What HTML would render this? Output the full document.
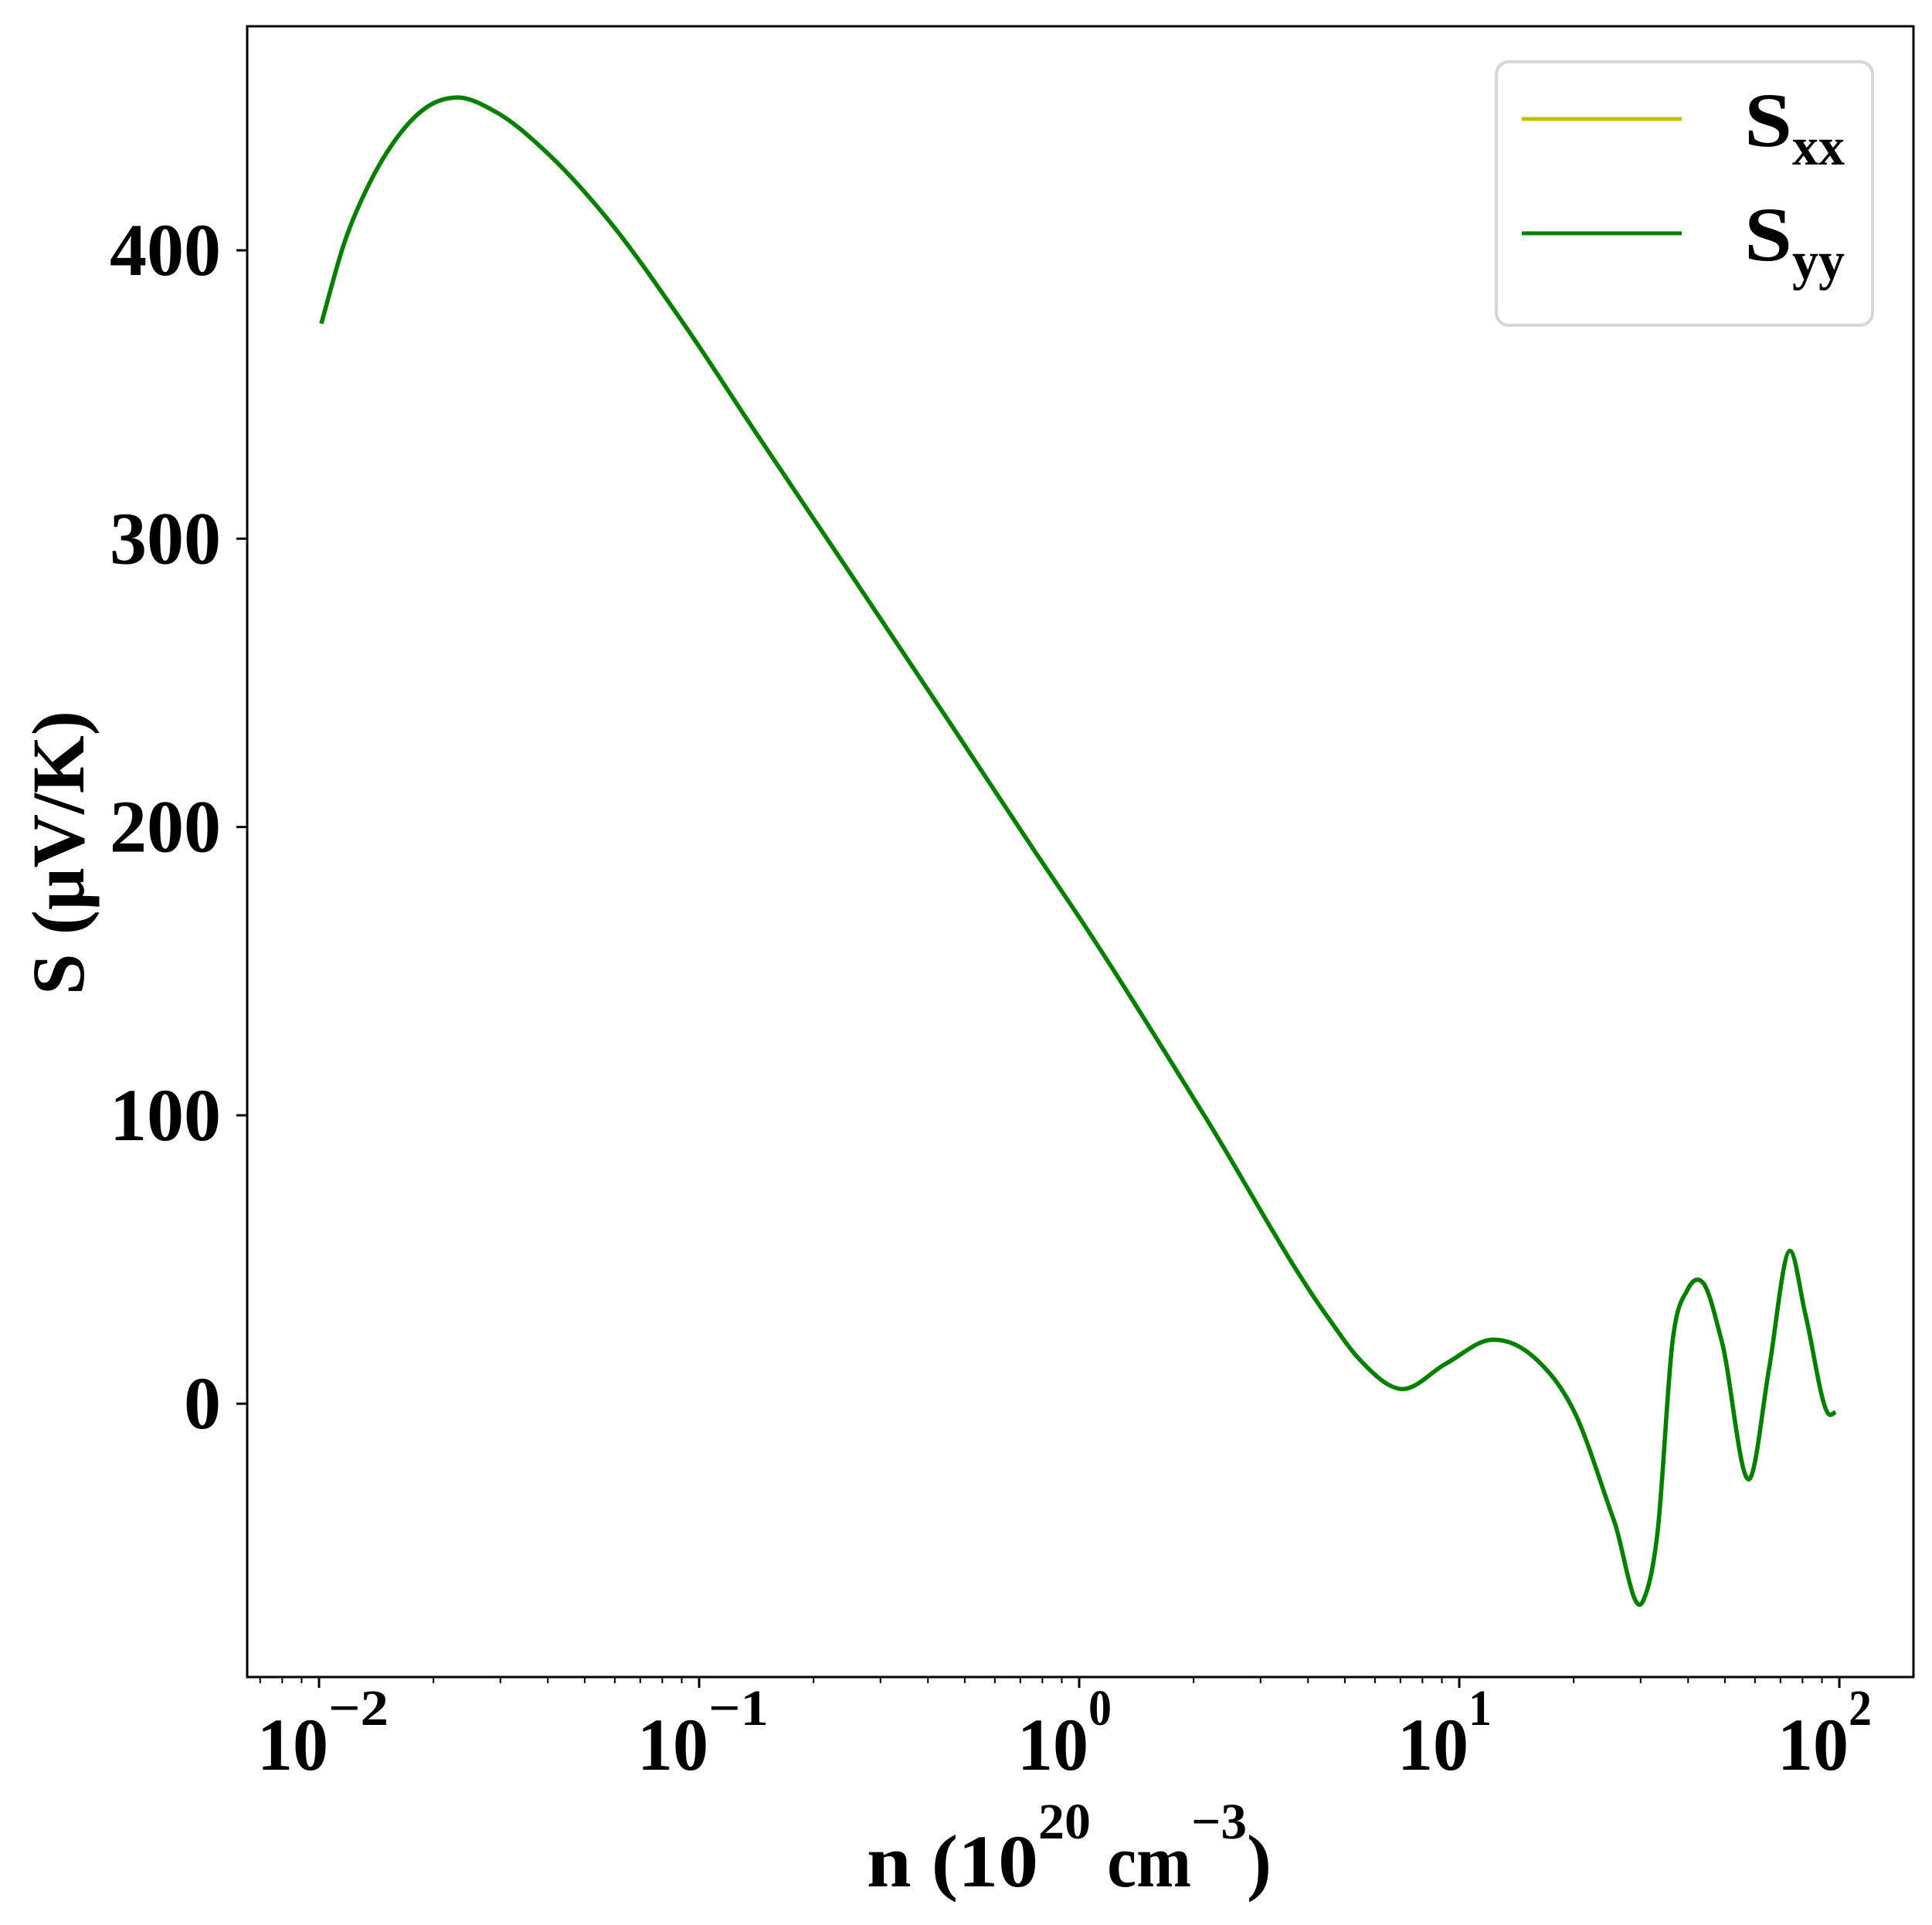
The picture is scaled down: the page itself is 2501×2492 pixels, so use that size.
<!DOCTYPE html>
<html><head><meta charset="utf-8"><style>
html,body{margin:0;padding:0;background:#fff;}
svg{display:block;font-family:"Liberation Serif","Times New Roman",Times,"DejaVu Serif",serif;font-weight:bold;}
</style></head><body>
<svg id="chart" width="2501" height="2492" viewBox="0 0 2501 2492" xmlns="http://www.w3.org/2000/svg">
<rect x="0" y="0" width="2501" height="2492" fill="#fff"/>
<g id="ticks"></g>
<g id="series"></g>
<rect x="320" y="34" width="2157" height="2137" fill="none" stroke="#000" stroke-width="3"/>
<g>
<rect x="1937" y="80" width="487" height="341" rx="16" fill="#fff" fill-opacity="0.8" stroke="#d6d6d6" stroke-width="4"/>
<line x1="1970" y1="154" x2="2177" y2="154" stroke="#bfbf00" stroke-width="5"/>
<text x="2258" y="189" font-size="100"><tspan textLength="62" lengthAdjust="spacingAndGlyphs">S</tspan><tspan font-size="70" dy="24" textLength="68" lengthAdjust="spacingAndGlyphs">xx</tspan></text>
<line x1="1970" y1="302" x2="2177" y2="302" stroke="#008000" stroke-width="5"/>
<text x="2258" y="337" font-size="100"><tspan textLength="62" lengthAdjust="spacingAndGlyphs">S</tspan><tspan font-size="70" dy="24" textLength="68" lengthAdjust="spacingAndGlyphs">yy</tspan></text>
</g>
<text x="1122" y="2442" font-size="96"><tspan textLength="222" lengthAdjust="spacingAndGlyphs">n (10</tspan><tspan font-size="66" dy="-62" textLength="68" lengthAdjust="spacingAndGlyphs">20</tspan><tspan dy="62" textLength="130" lengthAdjust="spacingAndGlyphs"> cm</tspan><tspan font-size="66" dy="-62" textLength="72" lengthAdjust="spacingAndGlyphs">−3</tspan><tspan dy="62" textLength="32" lengthAdjust="spacingAndGlyphs">)</tspan></text>
<text transform="translate(108,1104) rotate(-90)" font-size="96" text-anchor="middle" textLength="368" lengthAdjust="spacingAndGlyphs">S (μV/K)</text>
</svg>
<script>
const logN = [-1.994,-1.935,-1.870,-1.793,-1.715,-1.640,-1.535,-1.404,-1.248,-1.041,-0.860,-0.600,-0.341,-0.122,0.006,0.329,0.654,0.738,0.846,0.965,1.089,1.199,1.303,1.407,1.484,1.522,1.561,1.600,1.642,1.691,1.766,1.815,1.870,1.911,1.974,1.990];
const sxx = [374.6,402,422.5,439.4,449.8,453,448,434.3,412,374.6,338.6,287.5,236.3,192.6,167.5,100,30,15.3,5.1,13.9,22.2,15.8,-2.9,-40.5,-68.3,-44.2,21.4,39.4,41.8,21.4,-25.7,12.1,53,30.8,-3.8,-2.9];
const syy = [374.6,402,422.5,439.4,449.8,453,448,434.3,412,374.6,338.6,287.5,236.3,192.6,167.5,100,30,15.3,5.1,13.9,22.2,15.8,-2.9,-40.5,-68.3,-44.2,21.4,39.4,41.8,21.4,-25.7,12.1,53,30.8,-3.8,-2.9];
const yTicks = [0,100,200,300,400];
const xDecades = [-2,-1,0,1,2];
const xTickLabels = ["−2","−1","0","1","2"];

const NS="http://www.w3.org/2000/svg";
const X0=320,X1=2477,Y0=34,Y1=2171;
const xmin=-2.189,xmax=2.195,ymin=-94.8,ymax=477.7;
function xs(l){return X0+(l-xmin)/(xmax-xmin)*(X1-X0);}
function ys(v){return Y1-(v-ymin)/(ymax-ymin)*(Y1-Y0);}
const tg=document.getElementById('ticks');
function mk(tag,attrs,parent){const e=document.createElementNS(NS,tag);for(const k in attrs)e.setAttribute(k,attrs[k]);parent.appendChild(e);return e;}

yTicks.forEach(v=>{
  const y=ys(v);
  const t=mk('line',{x1:X0-14,y1:y,x2:X0,y2:y,stroke:'#000','stroke-width':3},tg);
  
  
  const s=String(v);
  const tx=mk('text',{x:286,y:y+32,'font-size':96,'text-anchor':'end',textLength:48*s.length,lengthAdjust:'spacingAndGlyphs'},tg);
  tx.textContent=s;
  
  
});
for(let d=-3;d<=2;d++){
  for(let m=2;m<=9;m++){
    const l=d+Math.log10(m);
    if(l<xmin||l>xmax)continue;
    const x=xs(l);
    const t=mk('line',{x1:x,y1:Y1,x2:x,y2:Y1+8,stroke:'#000','stroke-width':2},tg);
    
    
  }
}
xDecades.forEach((d,i)=>{
  const x=xs(d);
  const t=mk('line',{x1:x,y1:Y1,x2:x,y2:Y1+14,stroke:'#000','stroke-width':3},tg);
  
  
  const tx=mk('text',{x:x-80,y:2291,'font-size':96},tg);
  
  
  const b=mk('tspan',{textLength:92,lengthAdjust:'spacingAndGlyphs'},tx);
  b.textContent='10';
  const sp=mk('tspan',{'font-size':66,dy:-58,textLength:xTickLabels[i].length>1?78:30,lengthAdjust:'spacingAndGlyphs'},tx);
  sp.textContent=xTickLabels[i];
});

function pathFor(vals){
  const p=logN.map((l,i)=>[xs(l),ys(vals[i])]);
  const n=p.length;
  const m=p.map((_,i)=>{
    if(i===0)return (p[1][1]-p[0][1])/(p[1][0]-p[0][0]);
    if(i===n-1)return (p[n-1][1]-p[n-2][1])/(p[n-1][0]-p[n-2][0]);
    const s0=(p[i][1]-p[i-1][1])/(p[i][0]-p[i-1][0]);
    const s1=(p[i+1][1]-p[i][1])/(p[i+1][0]-p[i][0]);
    const h0=p[i][0]-p[i-1][0],h1=p[i+1][0]-p[i][0];
    return (s0*h1+s1*h0)/(h0+h1);
  });
  let d='M'+p[0][0]+','+p[0][1];
  for(let i=0;i<n-1;i++){
    const h=(p[i+1][0]-p[i][0])/3;
    d+=' C'+(p[i][0]+h)+','+(p[i][1]+m[i]*h)+' '+(p[i+1][0]-h)+','+(p[i+1][1]-m[i+1]*h)+' '+p[i+1][0]+','+p[i+1][1];
  }
  return d;
}
const sg=document.getElementById('series');
const l1=mk('path',{d:pathFor(sxx),fill:'none',stroke:'#bfbf00','stroke-width':5.5,'stroke-linejoin':'round'},sg);


const l2=mk('path',{d:pathFor(syy),fill:'none',stroke:'#008000','stroke-width':5.5,'stroke-linejoin':'round'},sg);


</script>
</body></html>
